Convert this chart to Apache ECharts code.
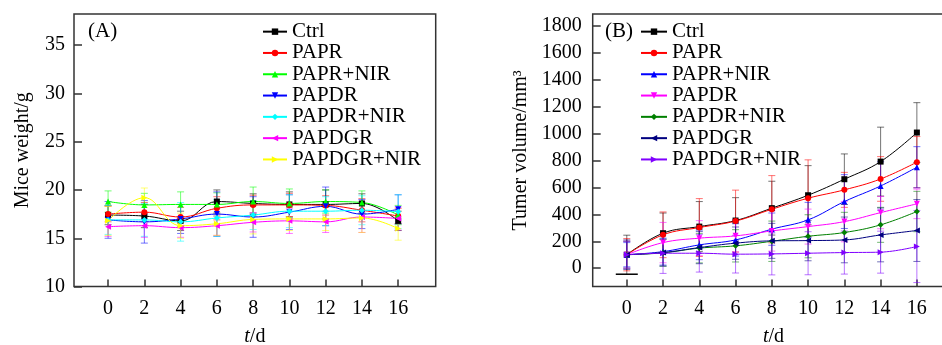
<!DOCTYPE html>
<html>
<head>
<meta charset="utf-8">
<script src="https://cdn.jsdelivr.net/npm/echarts@6/dist/echarts.min.js"></script>
<style>
html,body{margin:0;padding:0;background:#fff;}
#wrap{position:relative;width:942px;height:345px;overflow:hidden;}
#ca{position:absolute;left:0;top:0;width:471px;height:345px;}
#cb{position:absolute;left:471px;top:0;width:471px;height:345px;}
</style>
</head>
<body>
<div id="wrap"><div id="ca"></div><div id="cb"></div></div>
<script>
// ---------- data ----------
const days = [0, 2, 4, 6, 8, 10, 12, 14, 16];
const groups = ['Ctrl', 'PAPR', 'PAPR+NIR', 'PAPDR', 'PAPDR+NIR', 'PAPDGR', 'PAPDGR+NIR'];
const weightTicks = [10, 15, 20, 25, 30, 35];
const volumeTicks = [0, 200, 400, 600, 800, 1000, 1200, 1400, 1600, 1800];

// Panel A: mice weight (g)
const wCtrl      = [17.4, 17.3, 16.8, 18.8, 18.6, 18.5, 18.5, 18.6, 16.8];
const wPAPR      = [17.5, 17.7, 17.2, 18.1, 18.45, 18.45, 18.4, 17.9, 17.3];
const wPAPRNIR   = [18.8, 18.45, 18.5, 18.5, 18.8, 18.6, 18.8, 18.7, 17.4];
const wPAPDR     = [16.9, 16.7, 17.0, 17.5, 17.2, 17.7, 18.3, 17.5, 18.0];
const wPAPDRNIR  = [16.9, 16.9, 16.7, 17.1, 17.4, 17.8, 17.8, 17.9, 17.75];
const wPAPDGR    = [16.2, 16.3, 16.1, 16.3, 16.65, 16.8, 16.7, 17.2, 17.05];
const wPAPDGRNIR = [16.8, 19.2, 16.3, 16.5, 16.95, 17.0, 17.0, 17.1, 16.0];
// Panel A error bars (SD, g)
const eCtrl      = [1.0, 1.2, 1.0, 1.2, 1.0, 1.3, 1.5, 1.0, 1.0];
const ePAPR      = [0.8, 1.0, 1.0, 1.2, 1.0, 1.2, 1.0, 1.2, 0.8];
const ePAPRNIR   = [1.1, 1.2, 1.3, 1.2, 1.5, 1.5, 1.2, 1.2, 1.0];
const ePAPDR     = [1.9, 2.2, 1.5, 2.3, 2.1, 1.8, 2.0, 1.5, 1.5];
const ePAPDRNIR  = [1.5, 1.7, 2.0, 1.9, 1.5, 1.7, 1.5, 1.5, 1.75];
const ePAPDGR    = [1.0, 1.2, 1.0, 1.0, 1.0, 1.3, 1.1, 1.6, 1.2];
const ePAPDGRNIR = [1.5, 1.0, 1.3, 1.2, 1.5, 1.2, 1.2, 1.5, 1.2];

// Panel B: tumor volume (mm^3)
const vCtrl      = [100, 260, 309, 354, 446, 542, 661, 792, 1008];
const vPAPR      = [100, 248, 302, 350, 438, 520, 582, 663, 788];
const vPAPRNIR   = [100, 123, 173, 210, 290, 359, 495, 611, 750];
const vPAPDR     = [100, 190, 223, 240, 277, 309, 346, 413, 478];
const vPAPDRNIR  = [100, 114, 149, 166, 200, 237, 265, 322, 421];
const vPAPDGR    = [100, 116, 153, 186, 203, 205, 210, 247, 280];
const vPAPDGRNIR = [100, 111, 111, 104, 106, 111, 116, 119, 161];
// Panel B error bars (SD, mm^3)
const sCtrl      = [145, 150, 186, 170, 200, 220, 188, 256, 222];
const sPAPR      = [120, 170, 215, 230, 250, 285, 130, 166, 190];
const sPAPRNIR   = [90, 100, 110, 120, 120, 130, 200, 180, 153];
const sPAPDR     = [100, 150, 130, 120, 150, 130, 150, 120, 110];
const sPAPDRNIR  = [100, 100, 110, 120, 150, 160, 150, 130, 150];
const sPAPDGR    = [110, 100, 120, 120, 130, 150, 170, 200, 230];
const sPAPDGRNIR = [100, 150, 140, 140, 156, 160, 160, 156, 268];

// ---------- styling ----------
const FONT = "Liberation Serif";
const symbols = ['rect', 'circle', 'triangle', 'path://M0,0 L10,0 L5,9 Z', 'diamond', 'path://M9,0 L9,10 L0,5 Z', 'path://M0,0 L0,10 L9,5 Z'];
const colorsA = ['#000000', '#ff0000', '#00ff00', '#0000ff', '#00ffff', '#ff00ff', '#ffff00'];
const colorsB = ['#000000', '#ff0000', '#0000ff', '#ff00ff', '#008000', '#000080', '#8000ff'];

function errSeries(name, color, vals, errs, wideFirstLow) {
  return {
    type: 'custom',
    name: name + ' err',
    z: 1,
    silent: true,
    data: days.map((d, i) => [d, vals[i], errs[i]]),
    renderItem: function (params, api) {
      const x = api.value(0), y = api.value(1), e = api.value(2);
      const top = api.coord([x, y + e]);
      const bot = api.coord([x, y - e]);
      const hw = 3.5;
      const wide = wideFirstLow && params.dataIndex === 0;
      const hwl = wide ? 11 : hw;
      const st = { stroke: color, lineWidth: 1, opacity: 0.55 };
      const stl = wide ? { stroke: '#000', lineWidth: 1.5, opacity: 1 } : st;
      return {
        type: 'group',
        children: [
          { type: 'line', shape: { x1: top[0], y1: top[1], x2: bot[0], y2: bot[1] }, style: st },
          { type: 'line', shape: { x1: top[0] - hw, y1: top[1], x2: top[0] + hw, y2: top[1] }, style: st },
          { type: 'line', shape: { x1: bot[0] - hwl, y1: bot[1], x2: bot[0] + hwl, y2: bot[1] }, style: stl }
        ]
      };
    }
  };
}

function lineSeries(name, color, symbol, vals) {
  return {
    type: 'line',
    name: name,
    z: 3,
    data: days.map((d, i) => [d, vals[i]]),
    smooth: 0.4,
    symbol: symbol,
    symbolSize: 6,
    showAllSymbol: true,
    lineStyle: { color: color, width: 1 },
    itemStyle: { color: color },
    emphasis: { disabled: true },
    animation: false
  };
}

function buildOption(cfg) {
  const series = [];
  cfg.vals.forEach((v, i) => series.push(errSeries(groups[i], cfg.colors[i], v, cfg.errs[i], cfg.wide && i === 0)));
  cfg.vals.forEach((v, i) => series.push(lineSeries(groups[i], cfg.colors[i], symbols[i], v)));
  return {
    animation: false,
    backgroundColor: '#fff',
    textStyle: { fontFamily: FONT, color: '#000' },
    title: {
      text: cfg.tag, left: cfg.tagLeft, top: 21, padding: 0,
      textStyle: { fontFamily: FONT, fontSize: 21, fontWeight: 'normal', color: '#000' }
    },
    legend: {
      data: groups,
      orient: 'vertical',
      left: cfg.legLeft, top: 21, padding: 0,
      itemWidth: cfg.legItemW, itemHeight: 8, itemGap: 0,
      selectedMode: false,
      textStyle: { fontFamily: FONT, fontSize: 21, color: '#000', lineHeight: 21.3 }
    },
    grid: {
      show: true, left: cfg.gridLeft, top: 14, width: 361.7, height: 272.6,
      outerBoundsMode: 'none',
      borderColor: '#333', borderWidth: 1.5, backgroundColor: 'transparent'
    },
    xAxis: {
      type: 'value', min: -1.88, max: 18.07,
      name: '{i|t}/d', nameLocation: 'middle', nameGap: 40,
      nameTextStyle: { fontFamily: FONT, fontSize: 20, color: '#000',
        rich: { i: { fontFamily: FONT, fontSize: 20, fontStyle: 'italic', color: '#000' } } },
      axisLine: { show: false, onZero: false },
      axisTick: { show: true, inside: true, length: 7, customValues: days, lineStyle: { color: '#333', width: 1.5 } },
      axisLabel: { customValues: days, margin: 12, fontFamily: FONT, fontSize: 20, color: '#000',
        formatter: v => String(v) },
      splitLine: { show: false }
    },
    yAxis: {
      type: 'value', min: cfg.ymin, max: cfg.ymax,
      name: cfg.yname, nameLocation: 'middle', nameGap: cfg.yNameGap, nameRotate: 90,
      nameTextStyle: { fontFamily: FONT, fontSize: 20, color: '#000' },
      axisLine: { show: false, onZero: false },
      axisTick: { show: true, inside: true, length: 8, customValues: cfg.yticks, lineStyle: { color: '#333', width: 1.5 } },
      axisLabel: { customValues: cfg.yticks, margin: cfg.yLabMargin, fontFamily: FONT, fontSize: 20, color: '#000',
        formatter: v => String(v) },
      splitLine: { show: false }
    },
    series: series
  };
}

const chartA = echarts.init(document.getElementById('ca'), null, { renderer: 'canvas' });
chartA.setOption(buildOption({
  tag: '(A)', tagLeft: 88, legLeft: 262, legItemW: 24, gridLeft: 74,
  ymin: 10, ymax: 38.2, yticks: weightTicks, yname: 'Mice weight/g', yNameGap: 41, yLabMargin: 9,
  colors: colorsA,
  vals: [wCtrl, wPAPR, wPAPRNIR, wPAPDR, wPAPDRNIR, wPAPDGR, wPAPDGRNIR],
  errs: [eCtrl, ePAPR, ePAPRNIR, ePAPDR, ePAPDRNIR, ePAPDGR, ePAPDGRNIR],
  wide: false
}));

const chartB = echarts.init(document.getElementById('cb'), null, { renderer: 'canvas' });
chartB.setOption(buildOption({
  tag: '(B)', tagLeft: 134, legLeft: 169, legItemW: 26, gridLeft: 121.7,
  ymin: -137, ymax: 1889, yticks: volumeTicks, yname: 'Tumer volume/mm³', yNameGap: 61, yLabMargin: 11,
  colors: colorsB,
  vals: [vCtrl, vPAPR, vPAPRNIR, vPAPDR, vPAPDRNIR, vPAPDGR, vPAPDGRNIR],
  errs: [sCtrl, sPAPR, sPAPRNIR, sPAPDR, sPAPDRNIR, sPAPDGR, sPAPDGRNIR],
  wide: true
}));
</script>
</body>
</html>
